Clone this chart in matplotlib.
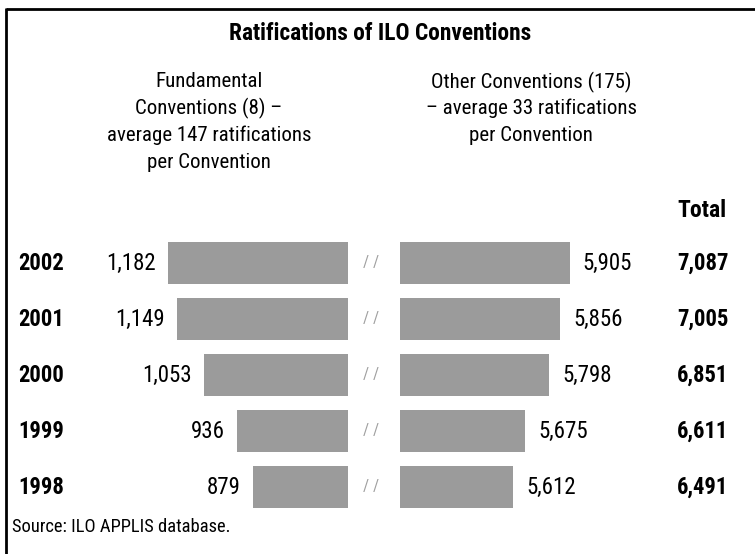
import matplotlib
matplotlib.use("Agg")
import matplotlib.pyplot as plt
from matplotlib import font_manager

# data
years = ["2002", "2001", "2000", "1999", "1998"]
fundamental = [1182, 1149, 1053, 936, 879]
other = [5905, 5856, 5798, 5675, 5612]
totals = [7087, 7005, 6851, 6611, 6491]

title = "Ratifications of ILO Conventions"
left_head = ["Fundamental", "Conventions (8) \u2013", "average 147 ratifications",
             "per Convention"]
right_head = ["Other Conventions (175)", "\u2013 average 33 ratifications",
              "per Convention"]
source = "Source: ILO APPLIS database."

# broken axes: bars start at these values
LEFT_BREAK = 538
RIGHT_BREAK = 5024
BAR_GREY = "#9b9b9b"


def pick(cands, weight):
    fonts = font_manager.fontManager.ttflist
    for c in cands:
        if any(f.name == c and f.style == "normal" and f.weight == weight for f in fonts):
            return c
    return "Liberation Sans"


narrow = ["Liberation Sans Narrow", "Arial Narrow", "Roboto Condensed", "PT Sans Narrow",
          "Archivo Narrow", "Asap Condensed", "IBM Plex Sans Condensed"]
REG = pick(narrow, 400)
BOLD = pick(narrow, 700)
reg = dict(family=[REG, "DejaVu Sans"])
bold = dict(family=[BOLD, "DejaVu Sans"], fontweight="bold")

W, H = 755, 554
fig = plt.figure(figsize=(W / 100, H / 100), dpi=100)

# background axes in pixel coordinates, for text and frame
bg = fig.add_axes([0, 0, 1, 1])
bg.set_xlim(0, W)
bg.set_ylim(H, 0)
bg.axis("off")
bg.plot([6, W], [9, 9], color="black", lw=2, solid_capstyle="butt")
bg.plot([6, 6], [8, H], color="black", lw=2, solid_capstyle="butt")

bg.text(380, 40, title, ha="center", va="baseline", fontsize=16.8, **bold)
for k, line in enumerate(left_head):
    bg.text(209, 87 + k * 27, line, ha="center", va="baseline", fontsize=15, **reg)
for k, line in enumerate(right_head):
    bg.text(531, 88 + k * 26.5, line, ha="center", va="baseline", fontsize=15, **reg)
bg.text(677, 217, "Total", ha="left", va="baseline", fontsize=17, **bold)
bg.text(12, 527, source, ha="left", va="center", fontsize=13.3, **reg)

# bar panels share the row layout
row_top, row_bot = 235, 515
bottom = (H - row_bot) / H
height = (row_bot - row_top) / H
lx0, lx1 = 100, 348
rx0, rx1 = 400, 620
axl = fig.add_axes([lx0 / W, bottom, (lx1 - lx0) / W, height])
axr = fig.add_axes([rx0 / W, bottom, (rx1 - rx0) / W, height])

idx = list(range(len(years)))
axl.barh(idx, [v - LEFT_BREAK for v in fundamental], left=LEFT_BREAK,
         height=0.76, color=BAR_GREY)
axl.set_xlim(LEFT_BREAK + (lx1 - lx0) / 0.2795, LEFT_BREAK)
axr.barh(idx, [v - RIGHT_BREAK for v in other], left=RIGHT_BREAK,
         height=0.76, color=BAR_GREY)
axr.set_xlim(RIGHT_BREAK, RIGHT_BREAK + (rx1 - rx0) / 0.1925)
for ax in (axl, axr):
    ax.set_ylim(len(years) - 0.5, -0.5)
    ax.axis("off")

for i, (y, f, o, t) in enumerate(zip(years, fundamental, other, totals)):
    axl.annotate(f"{f:,}", (f, i), xytext=(-12, 0), textcoords="offset pixels",
                 ha="right", va="center", fontsize=16.5, **reg)
    axr.annotate(f"{o:,}", (o, i), xytext=(13, 0), textcoords="offset pixels",
                 ha="left", va="center", fontsize=16.5, **reg)
    yp = row_top + (i + 0.5) * (row_bot - row_top) / len(years)
    bg.text(18, yp, y, ha="left", va="center", fontsize=16.3, **bold)
    bg.text(371, yp, "/ /", ha="center", va="center", fontsize=12,
            color="#a0a0a0", **reg)
    bg.text(677, yp, f"{t:,}", ha="left", va="center", fontsize=16.3, **bold)

fig.savefig("out.png", dpi=100)
